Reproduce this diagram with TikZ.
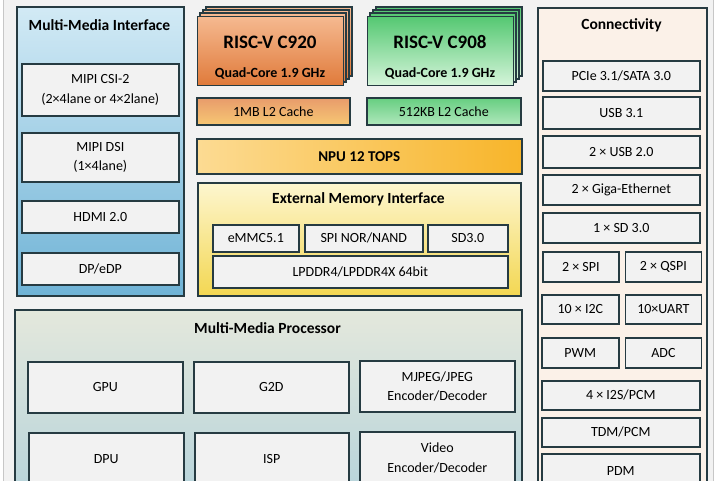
\documentclass[tikz,border=0pt]{standalone}
\usepackage{fontspec}
\setmainfont{Carlito}
\usetikzlibrary{positioning}

\definecolor{edge}{HTML}{263B42}
\definecolor{boxgray}{HTML}{F2F2F2}
\definecolor{ifacetop}{HTML}{D2EAF5}
\definecolor{ifacebot}{HTML}{6FB3D6}
\definecolor{orangetop}{HTML}{F5B990}
\definecolor{orangebot}{HTML}{E07A3A}
\definecolor{greentop}{HTML}{55C872}
\definecolor{greenbot}{HTML}{D6F5DB}
\definecolor{npuleft}{HTML}{FCDB93}
\definecolor{npuright}{HTML}{F8B52A}
\definecolor{memtop}{HTML}{FDF6CF}
\definecolor{membot}{HTML}{F3D752}
\definecolor{connfill}{HTML}{FBF1E8}
\definecolor{proctop}{HTML}{E4E8DC}
\definecolor{procbot}{HTML}{B3D2DB}

\begin{document}
\begin{tikzpicture}[x=1pt, y=-1pt,
        panel/.style={draw=edge, line width=1.6pt, anchor=north west, inner sep=0pt},
        unit/.style={draw=edge, line width=1.6pt, fill=boxgray, anchor=north west, inner sep=0pt,
            align=center, font=\fontsize{14}{19.5}\selectfont},
        heading/.style={font=\bfseries\fontsize{15.5}{18}\selectfont},
        card/.style={draw=edge, line width=1.4pt},
        cpuname/.style={font=\bfseries\fontsize{19}{22}\selectfont},
        cpufreq/.style={font=\bfseries\fontsize{14}{16}\selectfont}]

        \useasboundingbox (0,0) rectangle (720,480);
        \clip (0,0) rectangle (720,480);
        \fill[white] (0,0) rectangle (720,480);
        \draw[fill=boxgray, draw=black!22, line width=1pt] (3,-10) rectangle (713,500);

        % Multi-media interface (left column)
        \node [panel, top color=ifacetop, bottom color=ifacebot, minimum width=167, minimum height=289] (iface) at (16,6) {};
        \node [heading] (ifacetitle) at (99.5,25) {Multi-Media Interface};
        \node [unit, minimum width=157, minimum height=52] (csi) at (21,63) {MIPI CSI-2\\(2×4lane or 4×2lane)};
        \node [unit, minimum width=157, minimum height=49] (dsi) at (21,132) {MIPI DSI\\(1×4lane)};
        \node [unit, minimum width=157, minimum height=32] (hdmi) at (21,200) {HDMI 2.0};
        \node [unit, minimum width=157, minimum height=32] (dp) at (21,252) {DP/eDP};

        % CPU clusters, stacked cards
        \draw [card, top color=orangetop, bottom color=orangebot] (206,7) rectangle (352,76);
        \draw [card, top color=orangetop, bottom color=orangebot] (203,10) rectangle (349,79);
        \draw [card, top color=orangetop, bottom color=orangebot] (200,13) rectangle (346,82);
        \node [card, top color=orangetop, bottom color=orangebot, anchor=north west,
            minimum width=146, minimum height=69] (c920) at (197,16) {};
        \node [cpuname] (c920name) at (270,42) {RISC-V C920};
        \node [cpufreq] (c920freq) at (270,73) {Quad-Core 1.9 GHz};

        \draw [card, top color=greentop, bottom color=greenbot] (376,7) rectangle (522,76);
        \draw [card, top color=greentop, bottom color=greenbot] (373,10) rectangle (519,79);
        \draw [card, top color=greentop, bottom color=greenbot] (370,13) rectangle (516,82);
        \node [card, top color=greentop, bottom color=greenbot, anchor=north west,
            minimum width=146, minimum height=69] (c908) at (367,16) {};
        \node [cpuname] (c908name) at (440,42) {RISC-V C908};
        \node [cpufreq] (c908freq) at (440,73) {Quad-Core 1.9 GHz};

        % L2 caches and NPU
        \node [unit, top color=orangebot!75!white, bottom color=orangetop!80!yellow, minimum width=153, minimum height=27] (l2a) at (196,97) {1MB L2 Cache};
        \node [unit, top color=greentop!90!white, bottom color=greenbot!70!greentop, minimum width=154, minimum height=27] (l2b) at (366,97) {512KB L2 Cache};
        \node [unit, left color=npuleft, right color=npuright, minimum width=325, minimum height=35,
            font=\bfseries\fontsize{15}{18}\selectfont] (npu) at (196,138) {NPU 12 TOPS};

        % External memory interface
        \node [panel, top color=memtop, bottom color=membot, minimum width=323, minimum height=113] (emi) at (197,182) {};
        \node [heading] (emititle) at (358.5,199) {External Memory Interface};
        \node [unit, minimum width=86, minimum height=27] (emmc) at (212,224) {eMMC5.1};
        \node [unit, minimum width=118, minimum height=27] (spinor) at (304,224) {SPI NOR/NAND};
        \node [unit, minimum width=80, minimum height=27] (sdmem) at (427,224) {SD3.0};
        \node [unit, minimum width=295, minimum height=32] (lpddr) at (212,255) {LPDDR4/LPDDR4X 64bit};

        % Connectivity (right column)
        \node [panel, fill=connfill, minimum width=169, minimum height=493] (conn) at (537,7) {};
        \node [heading] (conntitle) at (621.5,25) {Connectivity};
        \node [unit, minimum width=157, minimum height=30] (pcie) at (542,60) {PCIe 3.1/SATA 3.0};
        \node [unit, minimum width=157, minimum height=32] (usb3) at (542,96) {USB 3.1};
        \node [unit, minimum width=157, minimum height=32] (usb2) at (542,135) {2 × USB 2.0};
        \node [unit, minimum width=157, minimum height=30] (geth) at (542,174) {2 × Giga-Ethernet};
        \node [unit, minimum width=157, minimum height=30] (sdio) at (542,212) {1 × SD 3.0};
        \node [unit, minimum width=76, minimum height=30] (spi) at (542,251) {2 × SPI};
        \node [unit, minimum width=76, minimum height=30, right=5pt of spi.north east, anchor=north west] (qspi) {2 × QSPI};
        \node [unit, minimum width=77, minimum height=29] (i2c) at (541,294) {10 × I2C};
        \node [unit, minimum width=76, minimum height=29, right=5pt of i2c.north east, anchor=north west] (uart) {10×UART};
        \node [unit, minimum width=77, minimum height=30] (pwm) at (541,337) {PWM};
        \node [unit, minimum width=76, minimum height=30, right=5pt of pwm.north east, anchor=north west] (adc) {ADC};
        \node [unit, minimum width=158, minimum height=29] (i2s) at (541,380) {4 × I2S/PCM};
        \node [unit, minimum width=158, minimum height=29] (tdm) at (541,417) {TDM/PCM};
        \node [unit, minimum width=158, minimum height=34] (pdm) at (541,453) {PDM};

        % Multi-media processor (bottom)
        \node [panel, top color=proctop, bottom color=procbot, minimum width=507, minimum height=200] (proc) at (14,309) {};
        \node [heading] (proctitle) at (267.5,328) {Multi-Media Processor};
        \node [unit, minimum width=155, minimum height=51] (gpu) at (27,361) {GPU};
        \node [unit, minimum width=155, minimum height=51] (g2d) at (193,361) {G2D};
        \node [unit, minimum width=155, minimum height=51] (mjpeg) at (359,360) {MJPEG/JPEG\\Encoder/Decoder};
        \node [unit, minimum width=155, minimum height=52] (dpu) at (28,432) {DPU};
        \node [unit, minimum width=154, minimum height=52] (isp) at (194,432) {ISP};
        \node [unit, minimum width=155, minimum height=52] (video) at (359,431) {Video\\Encoder/Decoder};
\end{tikzpicture}
\end{document}
